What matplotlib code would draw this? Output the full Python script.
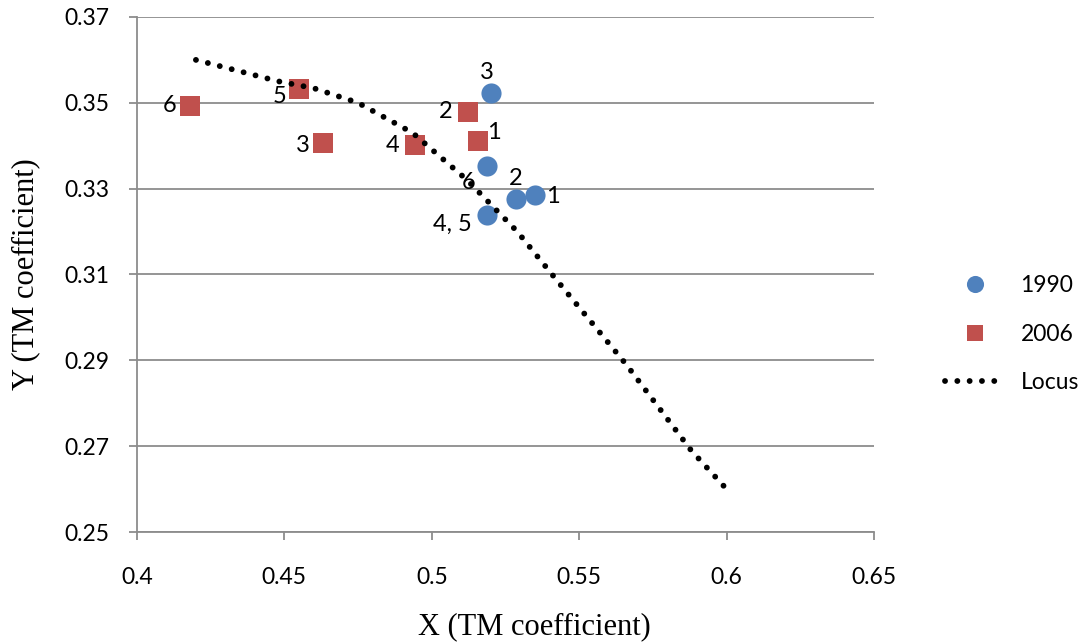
import numpy as np
import matplotlib.pyplot as plt

# 1990 points
x_1990 = [0.535, 0.5286, 0.520, 0.5186, 0.5186]
y_1990 = [0.3285, 0.3275, 0.3522, 0.3239, 0.3353]
lab_1990 = ['1', '2', '3', '4, 5', '6']
off_1990 = [(13, -1), (0, 15), (-3, 15), (-25, -7), (-13, -12)]

# 2006 points
x_2006 = [0.5158, 0.5122, 0.4632, 0.4943, 0.4551, 0.418]
y_2006 = [0.3412, 0.3479, 0.3406, 0.3401, 0.3532, 0.3493]
lab_2006 = ['1', '2', '3', '4', '5', '6']
off_2006 = [(11, 6), (-16, 0), (-15, -2), (-16, 0), (-14, -5), (-15, 0)]

# locus
x_locus = [0.420, 0.448, 0.460, 0.475, 0.4935, 0.512, 0.529, 0.542, 0.566, 0.588, 0.600]
y_locus = [0.360, 0.355, 0.3534, 0.350, 0.343, 0.332, 0.320, 0.309, 0.289, 0.269, 0.260]

blue = '#4F81BD'
red = '#C0504D'
grid_c = '#8C8C8C'
lab_font = 'Lato'

fig = plt.figure(figsize=(10.81, 6.43), dpi=100)
ax = fig.add_axes([0.1267, 0.1726, 0.8085 - 0.1267, 0.9736 - 0.1726])

ax.plot(x_1990, y_1990, 'o', color=blue, markersize=14.5, markeredgewidth=0, label='1990', zorder=3)
ax.plot(x_2006, y_2006, 's', color=red, markersize=14, markeredgewidth=0, label='2006', zorder=3)
ax.plot(x_locus, y_locus, color='black', lw=4.2, linestyle=(0, (0.01, 2.1)),
        dash_capstyle='round', label='Locus', zorder=4)

for x, y, t, o in zip(x_1990, y_1990, lab_1990, off_1990):
    ax.annotate(t, (x, y), xytext=o, textcoords='offset points', ha='center', va='center',
                fontsize=17, family=lab_font, zorder=5)
for x, y, t, o in zip(x_2006, y_2006, lab_2006, off_2006):
    ax.annotate(t, (x, y), xytext=o, textcoords='offset points', ha='center', va='center',
                fontsize=17, family=lab_font, zorder=5)

ax.set_xlim(0.4, 0.65)
ax.set_ylim(0.25, 0.37)
ax.set_xticks([0.4, 0.45, 0.5, 0.55, 0.6, 0.65])
ax.set_xticklabels(['0.4', '0.45', '0.5', '0.55', '0.6', '0.65'])
ax.set_yticks([0.25, 0.27, 0.29, 0.31, 0.33, 0.35, 0.37])
ax.set_yticklabels(['0.25', '0.27', '0.29', '0.31', '0.33', '0.35', '0.37'])
for lbl in ax.get_xticklabels() + ax.get_yticklabels():
    lbl.set_family(lab_font)
    lbl.set_fontsize(16.5)

ax.yaxis.grid(True, color=grid_c, lw=1.3)
ax.set_axisbelow(True)
for s in ['top', 'right']:
    ax.spines[s].set_visible(False)
for s in ['left', 'bottom']:
    ax.spines[s].set_color(grid_c)
    ax.spines[s].set_linewidth(1.3)
ax.tick_params(axis='both', direction='out', length=6, width=1.3, color=grid_c)
ax.tick_params(axis='y', pad=14)
ax.tick_params(axis='x', pad=19)

ax.set_xlabel('X (TM coefficient)', family='Liberation Serif', fontsize=22)
ax.set_ylabel('Y (TM coefficient)', family='Liberation Serif', fontsize=22, labelpad=17)
ax.xaxis.set_label_coords(0.539, -0.155)

leg = fig.legend(loc='center left', bbox_to_anchor=(0.855, 0.48), frameon=False,
                 prop={'family': lab_font, 'size': 16.5}, labelspacing=1.2,
                 handlelength=2.6, handletextpad=0.7, markerscale=0.85)

plt.savefig('out.png', dpi=100)
